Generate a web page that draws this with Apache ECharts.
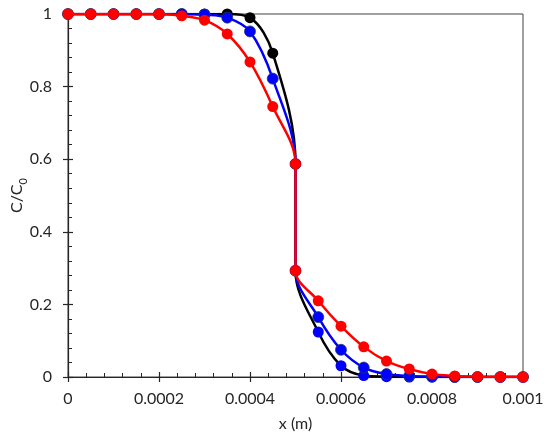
<!DOCTYPE html>
<html>
<head>
<meta charset="utf-8">
<script src="https://cdn.jsdelivr.net/npm/echarts@6/dist/echarts.min.js"></script>
<style>
html,body{margin:0;padding:0;background:#fff;}
#chart{width:550px;height:443px;}
</style>
</head>
<body>
<div id="chart"></div>
<script>
// x positions (m); the value at 0.0005 appears twice (jump)
const xValues = [0, 0.00005, 0.0001, 0.00015, 0.0002, 0.00025, 0.0003, 0.00035, 0.0004, 0.00045, 0.0005,
                 0.0005, 0.00055, 0.0006, 0.00065, 0.0007, 0.00075, 0.0008, 0.00085, 0.0009, 0.00095, 0.001];
const blackY = [1, 1, 1, 1, 1, 1, 1, 1, 0.99, 0.892, 0.587,
                0.293, 0.124, 0.031, 0.004, 0.001, 0, 0, 0, 0, 0, 0];
const blueY  = [1, 1, 1, 1, 1, 1, 0.998, 0.99, 0.952, 0.822, 0.587,
                0.293, 0.165, 0.075, 0.026, 0.008, 0.003, 0.001, 0, 0, 0, 0];
const redY   = [1, 1, 1, 1, 1, 0.995, 0.983, 0.945, 0.868, 0.745, 0.587,
                0.293, 0.21, 0.14, 0.083, 0.044, 0.022, 0.008, 0.003, 0.001, 0, 0];
const xTicks = [0, 0.0002, 0.0004, 0.0006, 0.0008, 0.001];
const yTicks = [0, 0.2, 0.4, 0.6, 0.8, 1];

const FONT = 'Lato';
const FS = 16;
const chart = echarts.init(document.getElementById('chart'));

function pairs(ys) { return xValues.map((x, i) => [x, ys[i]]); }

const axisColor = '#262626';
const textColor = '#262626';
const xBase = {
  type: 'value', min: xTicks[0], max: xTicks[xTicks.length - 1], interval: xTicks[1] - xTicks[0],
  splitLine: { show: false }
};
const yBase = {
  type: 'value', min: yTicks[0], max: yTicks[yTicks.length - 1], interval: yTicks[1] - yTicks[0],
  splitLine: { show: false }
};

const option = {
  animation: false,
  backgroundColor: '#fff',
  grid: { left: 68, right: 27, top: 14, bottom: 66, containLabel: false, outerBoundsMode: 'none',
          show: true, borderColor: '#404040', borderWidth: 1, backgroundColor: 'transparent' },
  xAxis: [
    Object.assign({}, xBase, {
      position: 'bottom',
      name: 'x (m)', nameLocation: 'middle', nameGap: 39, nameMoveOverlap: false,
      nameTextStyle: { fontFamily: FONT, fontSize: FS, color: textColor },
      axisLine: { show: true, lineStyle: { color: axisColor, width: 1.2 } },
      axisTick: { show: true, inside: true, length: 5, lineStyle: { color: axisColor, width: 1.2 } },
      minorTick: { show: true, splitNumber: 5, length: 4, lineStyle: { color: axisColor, width: 1 } },
      axisLabel: { margin: 14, fontFamily: FONT, fontSize: FS, color: textColor,
        formatter: v => v === 0 ? '0' : String(+v.toFixed(4)) }
    }),
    Object.assign({}, xBase, {
      position: 'bottom',
      axisLine: { show: false },
      axisTick: { show: true, inside: false, length: 5, lineStyle: { color: axisColor, width: 1.2 } },
      axisLabel: { show: false }
    })
  ],
  yAxis: [
    Object.assign({}, yBase, {
      position: 'left',
      name: '{a|C/C}{b|0}', nameLocation: 'middle', nameGap: 43, nameMoveOverlap: false,
      nameTextStyle: { fontFamily: FONT, fontSize: FS, color: textColor,
        rich: {
          a: { fontFamily: FONT, fontSize: FS, color: textColor, lineHeight: 20, verticalAlign: 'bottom' },
          b: { fontFamily: FONT, fontSize: 11, color: textColor, lineHeight: 20, verticalAlign: 'bottom', padding: [0, 0, -4, 0] }
        } },
      axisLine: { show: true, lineStyle: { color: axisColor, width: 1.2 } },
      axisTick: { show: true, inside: true, length: 5, lineStyle: { color: axisColor, width: 1.2 } },
      minorTick: { show: true, splitNumber: 5, length: 4, lineStyle: { color: axisColor, width: 1 } },
      axisLabel: { margin: 16, fontFamily: FONT, fontSize: FS, color: textColor,
        formatter: v => String(+v.toFixed(1)) }
    }),
    Object.assign({}, yBase, {
      position: 'left',
      axisLine: { show: false },
      axisTick: { show: true, inside: false, length: 5, lineStyle: { color: axisColor, width: 1.2 } },
      axisLabel: { show: false }
    })
  ],
  series: [
    {
      type: 'line', name: 'black', xAxisIndex: 0, yAxisIndex: 0, z: 2,
      smooth: 0.35, symbol: 'circle', symbolSize: 11,
      lineStyle: { color: '#000000', width: 2.5 },
      itemStyle: { color: '#000000' },
      data: pairs(blackY).map((p, i) => i >= 11 ? { value: p, itemStyle: { color: '#0000ff' } } : p)
    },
    {
      type: 'line', name: 'blue', xAxisIndex: 0, yAxisIndex: 0, z: 3,
      smooth: 0.35, symbol: 'circle', symbolSize: 11,
      lineStyle: { color: '#0000ff', width: 2.5 },
      itemStyle: { color: '#0000ff', borderColor: '#1c3a6e', borderWidth: 0.8 },
      data: pairs(blueY)
    },
    {
      type: 'line', name: 'red', xAxisIndex: 0, yAxisIndex: 0, z: 4,
      smooth: 0.35, symbol: 'circle', symbolSize: 11,
      lineStyle: { color: '#ff0000', width: 2.5 },
      itemStyle: { color: '#ff0000' },
      data: pairs(redY)
    }
  ]
};
chart.setOption(option);
</script>
</body>
</html>
